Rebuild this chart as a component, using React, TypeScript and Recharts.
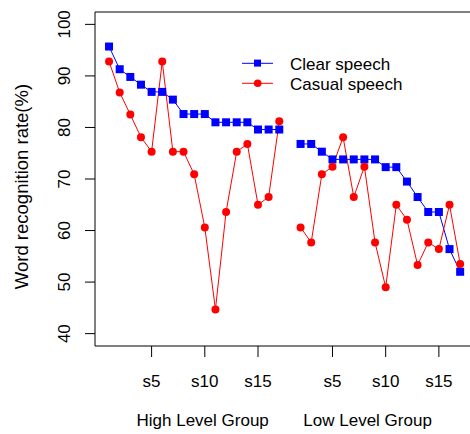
import React from 'react'
import { LineChart, Line, XAxis, YAxis, Legend, Label } from 'recharts'

// word recognition rate (%) per subject, s1..s17 in each group
const HIGH_CLEAR = [95.7, 91.3, 89.8, 88.3, 86.9, 86.9, 85.4, 82.6, 82.6, 82.6, 81.0, 81.0, 81.0, 81.0, 79.6, 79.6, 79.6]
const HIGH_CASUAL = [92.8, 86.8, 82.5, 78.1, 75.3, 92.8, 75.3, 75.3, 70.9, 60.6, 44.7, 63.6, 75.3, 76.8, 65.0, 66.5, 81.2]
// low level group has no value for s1
const LOW_CLEAR = [null, 76.8, 76.8, 75.3, 73.8, 73.8, 73.8, 73.8, 73.8, 72.3, 72.3, 69.5, 66.5, 63.6, 63.6, 56.4, 52.0]
const LOW_CASUAL = [null, 60.6, 57.7, 70.9, 72.4, 78.1, 66.5, 72.4, 57.7, 49.0, 65.0, 62.1, 53.3, 57.7, 56.4, 65.0, 53.5]

const SUBJECT_TICKS = [5, 10, 15]
const GROUPS = ['High Level Group', 'Low Level Group']
const GROUP_LABEL_POS = [9.8, 25.3]
const Y_TICKS = [40, 50, 60, 70, 80, 90, 100]

const N = HIGH_CLEAR.length
const LOW_OFFSET = N

const data = [
  ...HIGH_CLEAR.map((v, i) => ({ x: i + 1, clear: v, casual: HIGH_CASUAL[i] })),
  ...LOW_CLEAR.map((v, i) => ({ x: LOW_OFFSET + i + 1, clear: v, casual: LOW_CASUAL[i] })),
]

const xTicks = [...SUBJECT_TICKS, ...SUBJECT_TICKS.map((s) => s + LOW_OFFSET)]
const subjectLabel = (v: number) => 's' + (v > LOW_OFFSET ? v - LOW_OFFSET : v)

const FONT = '"Liberation Sans", Arial, sans-serif'
const BLUE = '#0000ff'
const RED = '#ff0000'

const Square = (props: any) => {
  const { cx, cy, value } = props
  if (value == null || cx == null) return <g key={props.key} />
  return <rect key={props.key} x={cx - 4} y={cy - 4} width={8} height={8} fill={BLUE} />
}

const Dot = (props: any) => {
  const { cx, cy, value } = props
  if (value == null || cx == null) return <g key={props.key} />
  return <circle key={props.key} cx={cx} cy={cy} r={4} fill={RED} />
}

const YTick = (props: any) => {
  const { x, y, payload } = props
  return (
    <text transform={`translate(${x},${y}) rotate(-90)`} textAnchor="middle" fontSize={17} fill="#000" fontFamily={FONT}>
      {payload.value}
    </text>
  )
}

const renderLegend = () => (
  <svg width={200} height={48}>
    <line x1={12} x2={43} y1={13.3} y2={13.3} stroke={BLUE} />
    <rect x={24} y={9.6} width={7} height={7} fill={BLUE} />
    <line x1={12} x2={43} y1={33.3} y2={33.3} stroke={RED} />
    <circle cx={27.7} cy={33.3} r={3.8} fill={RED} />
    <text x={60} y={20} fontSize={17} fontFamily={FONT} fill="#000">Clear speech</text>
    <text x={60} y={40} fontSize={17} fontFamily={FONT} fill="#000">Casual speech</text>
  </svg>
)

export default function App() {
  return (
    <div style={{ position: 'absolute', left: 0, top: 0, width: 470, height: 434, overflow: 'hidden', background: '#fff' }}>
      <LineChart width={480} height={434} data={data} margin={{ top: 12, right: 5.8, left: 0, bottom: 0 }}>
        <XAxis
          dataKey="x"
          type="number"
          domain={[-0.32, 35.32]}
          ticks={xTicks}
          tickFormatter={subjectLabel}
          height={45}
          tickSize={11}
          tickMargin={18}
          stroke="#000"
          tick={{ fill: '#000', fontSize: 17, fontFamily: FONT }}
        />
        <XAxis
          xAxisId="group"
          dataKey="x"
          type="number"
          domain={[-0.32, 35.32]}
          ticks={GROUP_LABEL_POS}
          tickFormatter={(v: number) => GROUPS[GROUP_LABEL_POS.indexOf(v)]}
          height={43}
          tickSize={0}
          tickMargin={23}
          tickLine={false}
          axisLine={false}
          tick={{ fill: '#000', fontSize: 17, fontFamily: FONT }}
        />
        <YAxis
          type="number"
          domain={[37.6, 102.4]}
          ticks={Y_TICKS}
          width={95}
          tickSize={10}
          tickMargin={15}
          stroke="#000"
          tick={<YTick />}
        >
          <Label
            content={() => (
              <text transform="translate(28.3,186.5) rotate(-90)" textAnchor="middle" fontSize={18.5} fontFamily={FONT} fill="#000">
                Word recognition rate(%)
              </text>
            )}
          />
        </YAxis>
        {/* plot box: top and right edges */}
        <line x1={95} x2={474.2} y1={12} y2={12} stroke="#000" />
        <line x1={474.2} x2={474.2} y1={12} y2={346} stroke="#000" />
        <Legend
          layout="vertical"
          align="center"
          verticalAlign="middle"
          content={renderLegend}
          wrapperStyle={{ left: 230, top: 50, width: 200, height: 48 }}
        />
        <Line dataKey="clear" stroke={BLUE} strokeWidth={1} dot={Square} activeDot={false} isAnimationActive={false} />
        <Line dataKey="casual" stroke={RED} strokeWidth={1} dot={Dot} activeDot={false} isAnimationActive={false} />
      </LineChart>
    </div>
  )
}
